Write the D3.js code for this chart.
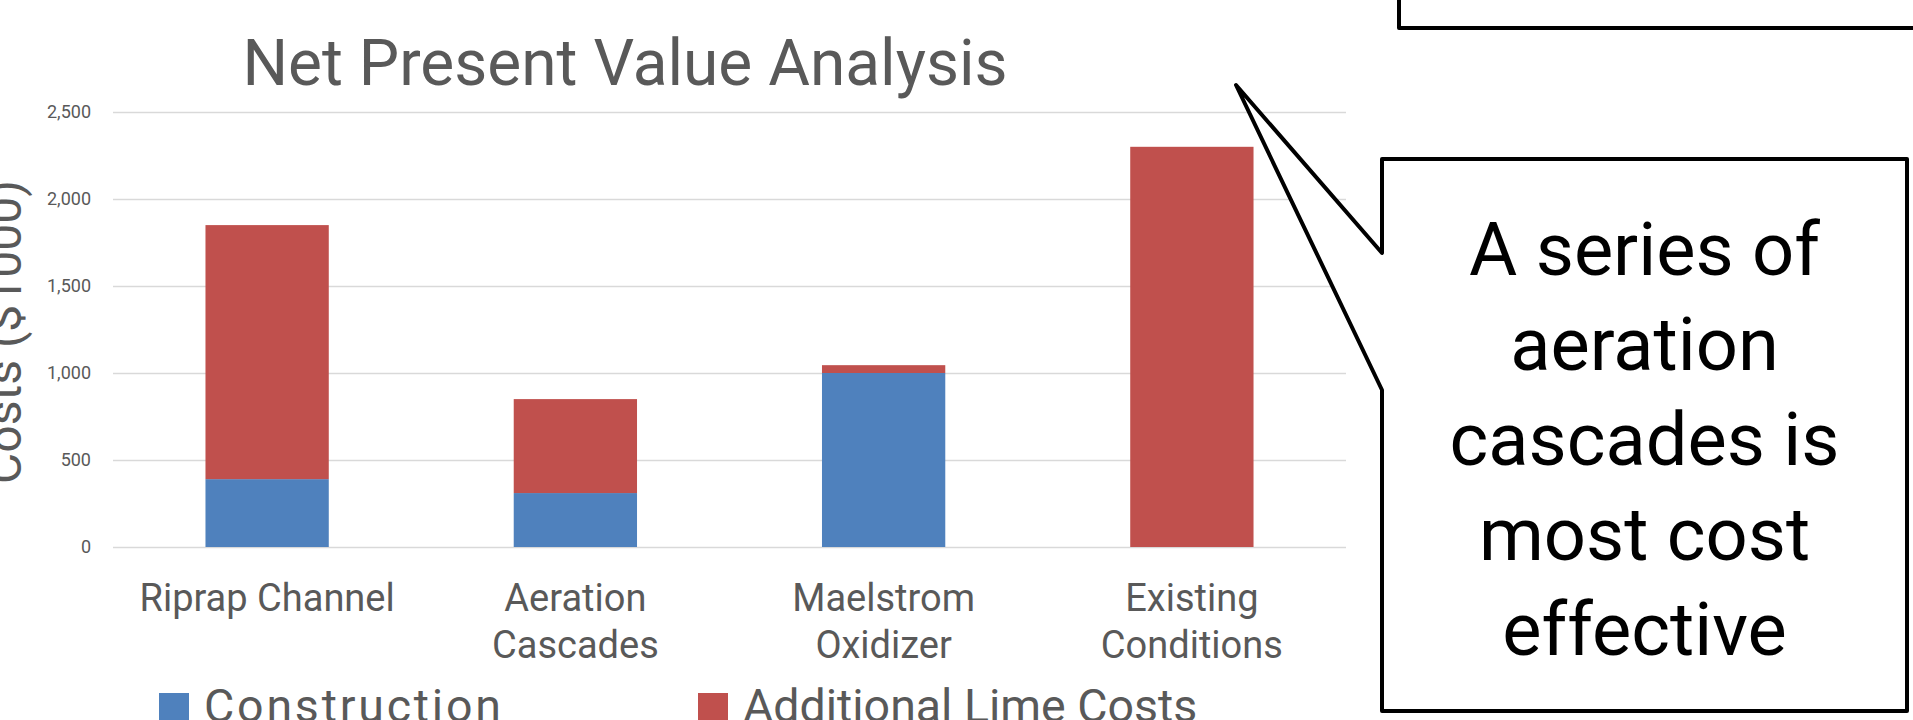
<!DOCTYPE html>
<html>
<head>
<meta charset="utf-8">
<script src="https://cdn.jsdelivr.net/npm/d3@7/dist/d3.min.js"></script>
<style>
  html, body { margin: 0; padding: 0; background: #fff; overflow: hidden; }
  svg { display: block; }
  text { font-family: Roboto, "Noto Sans", sans-serif; }
</style>
</head>
<body>
<svg id="chart" width="1913" height="720"></svg>
<script>
// ---- data ----
const categories = ["Riprap Channel", "Aeration Cascades", "Maelstrom Oxidizer", "Existing Conditions"];
const seriesNames = ["Construction", "Additional Lime Costs"];
const construction = [390, 310, 1000, 0];
const additionalLime = [1460, 540, 45, 2300];
const yTicks = [0, 500, 1000, 1500, 2000, 2500];
const colors = ["#4F81BD", "#C0504D"];
const titleText = "Net Present Value Analysis";
const yAxisTitle = "Costs ($1000)";
const calloutLines = ["A series of", "aeration", "cascades is", "most cost", "effective"];

// ---- build ----
const svg = d3.select("#chart");
const plot = { left: 113, right: 1346, top: 112, bottom: 547 };
const grey = "#595959";

const rows = categories.map((c, i) => ({ cat: c, Construction: construction[i], "Additional Lime Costs": additionalLime[i] }));
const stacked = d3.stack().keys(seriesNames)(rows);

const x = d3.scaleBand().domain(categories).range([plot.left, plot.right]).paddingInner(0.6).paddingOuter(0.3);
const y = d3.scaleLinear().domain([0, 2500]).range([plot.bottom, plot.top]);

// gridlines + tick labels
const yAxis = d3.axisLeft(y).tickValues(yTicks).tickSize(-(plot.right - plot.left)).tickFormat(d3.format(","));
const gy = svg.append("g").attr("transform", `translate(${plot.left},0)`).call(yAxis);
gy.select(".domain").remove();
gy.selectAll(".tick line").attr("stroke", "#d9d9d9").attr("stroke-width", 1.6);
gy.selectAll(".tick text").attr("x", -22).attr("fill", grey).style("font-size", "18px");

// bars
svg.append("g").selectAll("g").data(stacked).join("g")
  .attr("fill", (d, i) => colors[i])
  .selectAll("rect").data(d => d)
  .join("rect")
  .attr("x", d => x(d.data.cat))
  .attr("width", x.bandwidth())
  .attr("y", d => y(d[1]))
  .attr("height", d => Math.max(0, y(d[0]) - y(d[1])));

// category labels (wrapped to band)
const catG = svg.append("g");
categories.forEach(c => {
  const cx = x(c) + x.bandwidth() / 2;
  const t = catG.append("text").attr("text-anchor", "middle").attr("fill", grey)
    .style("font-size", "38px").attr("x", cx).attr("y", 611).text(c);
  const maxW = x.step() * 0.92;
  if (t.node().getComputedTextLength() > maxW) {
    const words = c.split(" ");
    t.text(null);
    words.forEach((w, i) => {
      t.append("tspan").attr("x", cx).attr("dy", i === 0 ? 0 : 47).text(w);
    });
  }
});

// title
svg.append("text").attr("x", 625).attr("y", 85).attr("text-anchor", "middle")
  .attr("fill", grey).style("font-size", "64px").text(titleText);

// y axis title (cut at left edge)
svg.append("text").attr("transform", "translate(21,332) rotate(-90)")
  .attr("text-anchor", "middle").attr("fill", grey).style("font-size", "48px").text(yAxisTitle);

// legend
const legendX = [159, 698];
seriesNames.forEach((s, i) => {
  svg.append("rect").attr("x", legendX[i]).attr("y", 693).attr("width", 30).attr("height", 30).attr("fill", colors[i]);
  svg.append("text").attr("x", legendX[i] + 45).attr("y", 722).attr("fill", grey)
    .style("font-size", "46.5px").attr("letter-spacing", i === 0 ? "2.8px" : "0px").text(s);
});

// top callout box (partially visible)
svg.append("path").attr("d", "M1399,-10 L1399,28 L1930,28")
  .attr("fill", "#fff").attr("stroke", "#000").attr("stroke-width", 4).attr("stroke-linejoin", "round");

// main callout with pointer
const cb = { l: 1382, t: 159, r: 1907, b: 711 };
const tip = [1236, 85];
const p1 = 253, p2 = 390;
const callPath = `M${cb.l},${cb.t} L${cb.r},${cb.t} L${cb.r},${cb.b} L${cb.l},${cb.b} L${cb.l},${p2} L${tip[0]},${tip[1]} L${cb.l},${p1} Z`;
svg.append("path").attr("d", callPath).attr("fill", "#fff").attr("stroke", "#000")
  .attr("stroke-width", 4).attr("stroke-linejoin", "round");

const cxText = (cb.l + cb.r) / 2;
calloutLines.forEach((l, i) => {
  svg.append("text").attr("x", cxText).attr("y", 275 + i * 95).attr("text-anchor", "middle")
    .attr("fill", "#000").style("font-size", "74px").text(l);
});
</script>
</body>
</html>
